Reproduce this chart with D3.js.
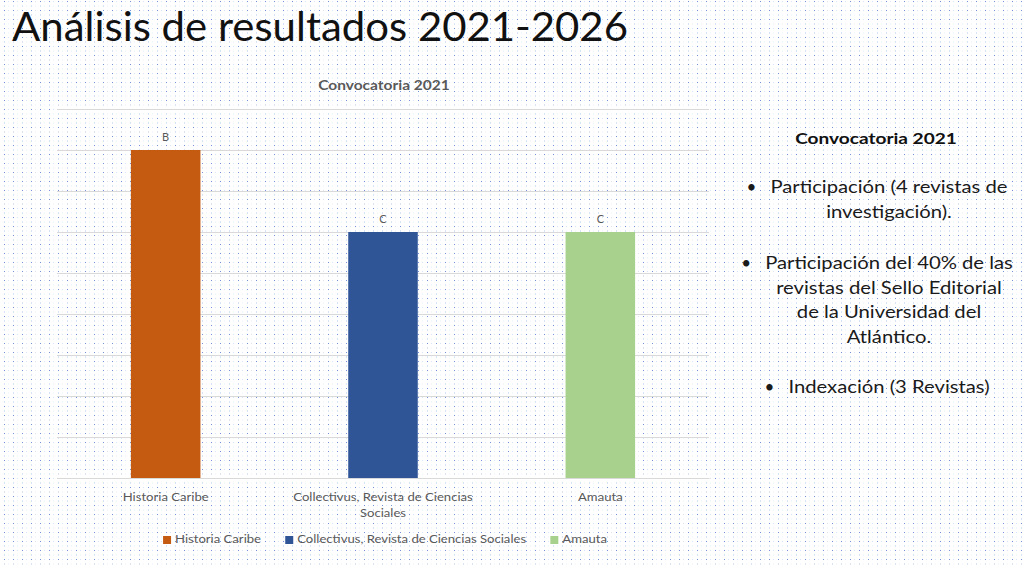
<!DOCTYPE html>
<html>
<head>
<meta charset="utf-8">
<script src="https://cdn.jsdelivr.net/npm/d3@7"></script>
<style>
  html, body { margin: 0; padding: 0; background: #fff; }
  svg { display: block; font-family: Lato, "Open Sans", sans-serif; }
</style>
</head>
<body>
<svg id="slide" width="1024" height="568"></svg>
<script>
/* ── data ─────────────────────────────────────────── */
const categories = ["Historia Caribe", "Collectivus, Revista de Ciencias Sociales", "Amauta"];
const axisLabels = [["Historia Caribe"], ["Collectivus, Revista de Ciencias", "Sociales"], ["Amauta"]];
const values     = [8, 6, 6];
const grades     = ["B", "C", "C"];
const colors     = ["#c55a11", "#2f5597", "#a9d18e"];
const yMax       = 9;

const bullets = [
  ["Participación (4 revistas de", "investigación)."],
  ["Participación del 40% de las", "revistas del Sello Editorial", "de la Universidad del", "Atlántico."],
  ["Indexación (3 Revistas)"]
];

// the slide fonts run wider than Lato; stretch text horizontally to match
const STRETCH = 1.19;
function stretch(sel, k = STRETCH) {
  sel.each(function () {
    const w = this.getComputedTextLength();
    d3.select(this).attr("textLength", w * k).attr("lengthAdjust", "spacingAndGlyphs");
  });
  return sel;
}

/* ── slide background ─────────────────────────────── */
const svg = d3.select("#slide");
const defs = svg.append("defs");
const pat = defs.append("pattern").attr("id", "dots")
  .attr("patternUnits", "userSpaceOnUse").attr("width", 9).attr("height", 9);
pat.append("rect").attr("x", 4).attr("y", 1).attr("width", 1).attr("height", 1).attr("fill", "#6f93d6");
pat.append("rect").attr("x", 8.5).attr("y", 1).attr("width", 1).attr("height", 1).attr("fill", "#b5c8ea");
pat.append("rect").attr("x", 4).attr("y", 5.5).attr("width", 1).attr("height", 1).attr("fill", "#b5c8ea");
pat.append("rect").attr("x", 8.5).attr("y", 5.5).attr("width", 1).attr("height", 1).attr("fill", "#d3dff3");
svg.append("rect").attr("width", 1024).attr("height", 568).attr("fill", "#fff");
svg.append("rect").attr("width", 1024).attr("height", 568).attr("fill", "url(#dots)");

svg.append("text")
  .attr("x", 12).attr("y", 41)
  .attr("font-size", "40px").attr("fill", "#111")
  .attr("textLength", 616).attr("lengthAdjust", "spacingAndGlyphs")
  .text("Análisis de resultados 2021-2026");

/* ── chart ────────────────────────────────────────── */
const plot = { left: 57, right: 709, top: 109, bottom: 478 };
const g = svg.append("g");

const x = d3.scaleBand().domain(categories)
  .range([plot.left, plot.right])
  .paddingInner(0.68).paddingOuter(0.34);
const y = d3.scaleLinear().domain([0, yMax]).range([plot.bottom, plot.top]);

g.append("text")
  .attr("x", 384).attr("y", 90)
  .attr("text-anchor", "middle").attr("font-size", "12.5px").attr("font-weight", "bold")
  .attr("fill", "#595959")
  .text("Convocatoria 2021")
  .call(stretch, 1.24);

// gridlines
g.append("g")
  .attr("transform", `translate(${plot.left},0)`)
  .call(d3.axisLeft(y).ticks(yMax).tickSize(-(plot.right - plot.left)).tickFormat(""))
  .call(a => a.select(".domain").remove())
  .selectAll(".tick line").attr("stroke", "#d9d9d9").attr("stroke-width", 1);

g.selectAll(".bar").data(categories).join("rect")
  .attr("class", "bar")
  .attr("x", d => x(d))
  .attr("width", x.bandwidth())
  .attr("y", (d, i) => y(values[i]))
  .attr("height", (d, i) => y(0) - y(values[i]))
  .attr("fill", (d, i) => colors[i]);

g.selectAll(".grade").data(categories).join("text")
  .attr("class", "grade")
  .attr("x", d => x(d) + x.bandwidth() / 2)
  .attr("y", (d, i) => y(values[i]) - 9)
  .attr("text-anchor", "middle").attr("font-size", "11px").attr("fill", "#595959")
  .text((d, i) => grades[i]);

// category axis
const xa = g.append("g")
  .attr("transform", `translate(0,${plot.bottom})`)
  .call(d3.axisBottom(x).tickSize(0).tickFormat(""));
xa.select(".domain").attr("stroke", "#d9d9d9");
xa.selectAll(".tick").each(function (d, i) {
  const tick = d3.select(this);
  axisLabels[i].forEach((line, j) =>
    tick.append("text")
      .attr("fill", "#595959").attr("font-size", "11px")
      .attr("font-family", "Lato, sans-serif").attr("text-anchor", "middle")
      .attr("x", 0).attr("y", 23 + j * 16).text(line)
      .call(stretch));
});

// legend
const legend = g.append("g").attr("transform", "translate(0,543)");
const items = legend.selectAll("g").data(categories).join("g");
items.append("rect").attr("y", -7).attr("width", 8).attr("height", 8)
  .attr("fill", (d, i) => colors[i]);
items.append("text").attr("x", 12).attr("y", 0)
  .attr("font-size", "11px").attr("fill", "#595959").text(d => d)
  .call(stretch);
let widths = [], total = 0;
items.each(function () { const w = this.getBBox().width; widths.push(w); total += w; });
const gap = 24;
let lx = 385 - (total + gap * (categories.length - 1)) / 2;
items.attr("transform", (d, i) => {
  const t = `translate(${lx},0)`; lx += widths[i] + gap; return t;
});

/* ── side text ─────────────────────────────────────── */
const side = svg.append("g");
const cx = 889;
side.append("text")
  .attr("x", 876).attr("y", 144)
  .attr("text-anchor", "middle").attr("font-size", "16px").attr("font-weight", "bold")
  .attr("fill", "#111").text("Convocatoria 2021")
  .call(stretch);

const starts = [193, 269, 393];
bullets.forEach((lines, b) => {
  lines.forEach((line, j) => {
    const t = side.append("text")
      .attr("x", cx).attr("y", starts[b] + j * 24.5)
      .attr("text-anchor", "middle").attr("font-size", "17px").attr("fill", "#1a1a1a")
      .text(line)
      .call(stretch);
    if (j === 0) {
      const len = +t.attr("textLength");
      side.append("text")
        .attr("x", cx - len / 2 - 24).attr("y", starts[b])
        .attr("font-size", "17px").attr("fill", "#1a1a1a").text("•");
    }
  });
});
</script>
</body>
</html>
